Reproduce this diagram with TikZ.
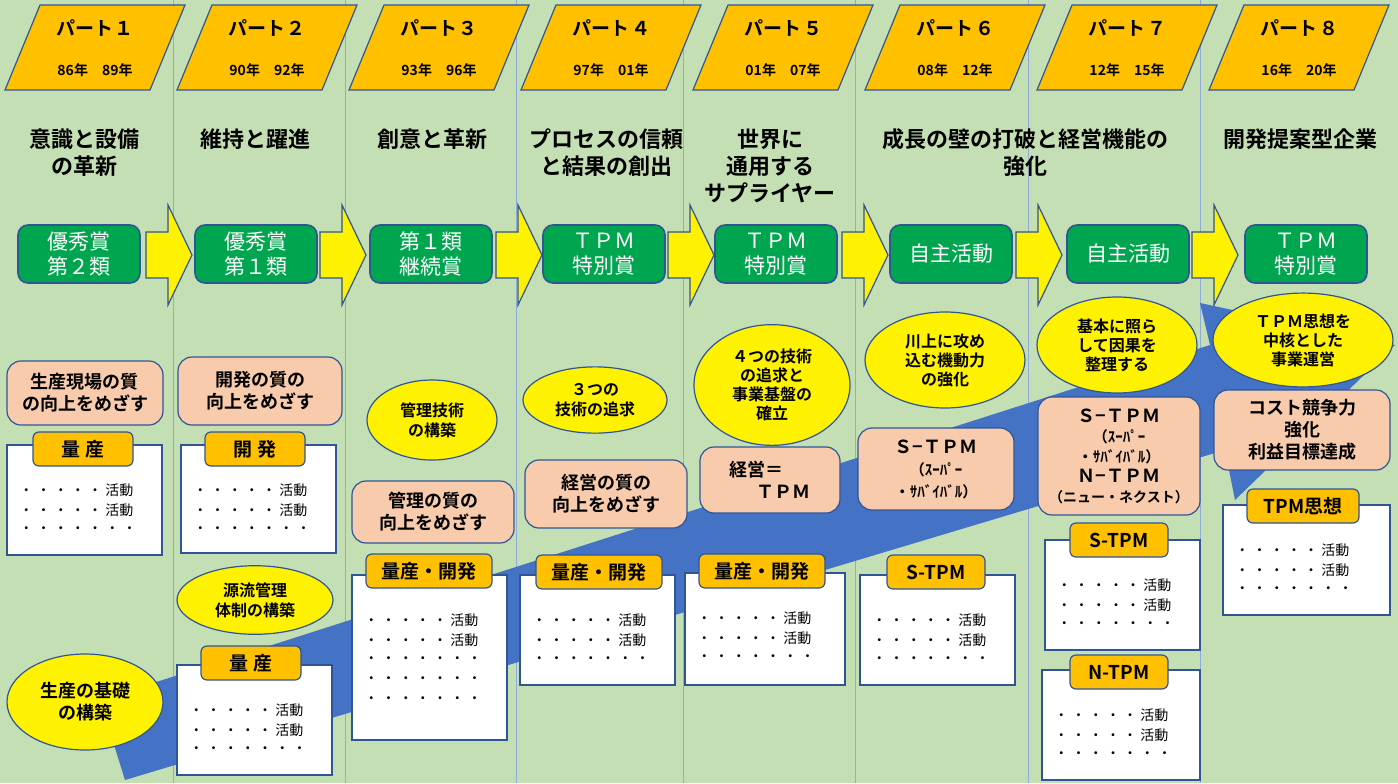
\documentclass[tikz,border=0pt]{standalone}
\usepackage{fontspec}
\setmainfont{Noto Sans CJK JP}
\newfontfamily\jb{Noto Sans CJK JP Bold}
\usetikzlibrary{shapes.geometric}
\definecolor{bg}{HTML}{C5DFB4}
\definecolor{org}{HTML}{FFC000}
\definecolor{grn}{HTML}{00A64F}
\definecolor{pch}{HTML}{F8CBAD}
\definecolor{blu}{HTML}{4472C4}
\definecolor{edg}{HTML}{2F5597}
\tikzset{
 part/.style={fill=org,draw=edg,line width=0.6pt},
 award/.style={fill=grn,draw=edg,line width=0.8pt,rounded corners=5pt},
 yarr/.style={fill=yellow,draw=edg,line width=0.6pt},
 peach/.style={fill=pch,draw=edg,line width=0.6pt,rounded corners=7pt},
 wbox/.style={fill=white,draw=edg,line width=0.6pt},
 tag/.style={fill=org,draw=edg,line width=0.6pt,rounded corners=3pt},
 ell/.style={fill=yellow,draw=edg,line width=0.6pt},
 ttl/.style={font=\jb\fontsize{11}{13.5}\selectfont,align=center,anchor=north},
 lbl/.style={font=\jb\fontsize{9}{11}\selectfont,align=center},
 sm/.style={font=\jb\fontsize{8}{9.5}\selectfont,align=center},
}
\def\D{・\hspace{1.6pt}}
\newcommand\rowA{\D\D\D\D\D 活動}
\newcommand\rowB{\D\D\D\D\D\D\D}
\begin{document}
\begin{tikzpicture}[x=0.5pt,y=-0.5pt]
\useasboundingbox (0,0) rectangle (1398,783);
\fill[bg] (0,0) rectangle (1398,783);
\foreach \x in {173,345,516,683,855,1028,1200}
  \draw[blu!60,line width=0.3pt] (\x,0) -- (\x,783);
% big blue arrow
\fill[blu] (100,700) -- (1210,345) -- (1200,303) -- (1395,345) -- (1235,500) -- (1225,450) -- (125,780) -- cycle;
% parts
\foreach \i/\z/\a/\b in {1/１/86/89,2/２/90/92,3/３/93/96,4/４/97/01,5/５/01/07,6/６/08/12,7/７/12/15,8/８/16/20}{
  \pgfmathsetmacro\c{95+172*(\i-1)}
  \draw[part] (\c-90,90) -- (\c-55,5) -- (\c+90,5) -- (\c+55,90) -- cycle;
  \node[font=\jb\fontsize{9.5}{10}\selectfont] (p\i) at (\c,28) {パート\hspace{1pt}\z};
  \node[font=\jb\fontsize{7}{8}\selectfont] (y\i) at (\c,70) {\a 年\quad\b 年};
}
% titles
\node[ttl] (t1) at (84,122) {意識と設備\\の革新};
\node[ttl] (t2) at (255,122) {維持と躍進};
\node[ttl] (t3) at (432,122) {創意と革新};
\node[ttl] (t4) at (606,122) {プロセスの信頼\\と結果の創出};
\node[ttl] (t5) at (770,122) {世界に\\通用する\\サプライヤー};
\node[ttl] (t6) at (1025,122) {成長の壁の打破と経営機能の\\強化};
\node[ttl] (t8) at (1300,122) {開発提案型企業};
% yellow arrows
\foreach \x in {146,320,496,668,842,1016,1192}{
  \draw[yarr] (\x,232) -- (\x+22,232) -- (\x+22,205) -- (\x+46,255) -- (\x+22,305) -- (\x+22,278) -- (\x,278) -- cycle;
}
% awards
\foreach \n/\x/\t in {a1/79/{優秀賞\\第２類},a2/256/{優秀賞\\第１類},a3/431/{第１類\\継続賞},a4/604/{ＴＰＭ\\特別賞},a5/776/{ＴＰＭ\\特別賞},a6/951/{自主活動},a7/1128/{自主活動},a8/1306/{ＴＰＭ\\特別賞}}{
  \node[award,minimum width=61pt,minimum height=29pt,text=white,font=\fontsize{10.5}{12.5}\selectfont,align=center] (\n) at (\x,254) {\t};
}
% ellipses
\node[ell,ellipse,minimum width=78pt,minimum height=48pt,lbl] (e1) at (85,702) {生産の基礎\\の構築};
\node[ell,ellipse,minimum width=78pt,minimum height=32pt,sm,font=\jb\fontsize{8}{10}\selectfont] (e2) at (255,600) {源流管理\\体制の構築};
\node[ell,ellipse,minimum width=65pt,minimum height=40pt,sm,font=\jb\fontsize{8}{10}\selectfont] (e3) at (432,420) {管理技術\\の構築};
\node[ell,ellipse,minimum width=72pt,minimum height=33pt,sm,font=\jb\fontsize{8}{10}\selectfont] (e4) at (595,400) {３つの\\技術の追求};
\node[ell,ellipse,minimum width=78pt,minimum height=52pt,sm] (e5) at (772,385) {４つの技術\\の追求と\\事業基盤の\\確立};
\node[ell,ellipse,minimum width=80pt,minimum height=48pt,sm] (e6) at (945,360) {川上に攻め\\込む機動力\\の強化};
\node[ell,ellipse,minimum width=80pt,minimum height=48pt,sm] (e7) at (1117,345) {基本に照ら\\して因果を\\整理する};
\node[ell,ellipse,minimum width=90pt,minimum height=38pt,sm] (e8) at (1303,340) {ＴＰＭ思想を\\中核とした\\事業運営};
% peach boxes
\node[peach,minimum width=78pt,minimum height=32pt,lbl] (q1) at (85,393) {生産現場の質\\の向上をめざす};
\node[peach,minimum width=82pt,minimum height=34pt,lbl] (q2) at (260,391) {開発の質の\\向上をめざす};
\node[peach,minimum width=81pt,minimum height=31pt,lbl] (q3) at (433,512) {管理の質の\\向上をめざす};
\node[peach,minimum width=81pt,minimum height=34pt,lbl] (q4) at (606,494) {経営の質の\\向上をめざす};
\node[peach,minimum width=70pt,minimum height=33pt,lbl,align=left] (q5) at (770,480) {経営＝\\\hspace{1.5em}ＴＰＭ};
\node[peach,minimum width=78pt,minimum height=41pt,lbl] (q6) at (936,469) {Ｓ−ＴＰＭ\\{\fontsize{7.5}{9}\selectfont（ｽｰﾊﾟｰ}\\{\fontsize{7.5}{9}\selectfont ・ｻﾊﾞｲﾊﾞﾙ）}};
\node[peach,minimum width=81pt,minimum height=59pt,lbl,font=\jb\fontsize{9}{10}\selectfont] (q7) at (1119,456) {Ｓ−ＴＰＭ\\{\fontsize{7.5}{9}\selectfont（ｽｰﾊﾟｰ}\\{\fontsize{7.5}{9}\selectfont ・ｻﾊﾞｲﾊﾞﾙ）}\\Ｎ−ＴＰＭ\\{\fontsize{7}{8}\selectfont（ニュー・ネクスト）}};
\node[peach,minimum width=88pt,minimum height=40pt,lbl] (q8) at (1302,430) {コスト競争力\\強化\\利益目標達成};
% white boxes with tags
\foreach \n/\xa/\ya/\xb/\yb/\tx/\ty/\tw/\t/\rows in {
 w1/7/445/162/555/83/449/50/量\ 産/3,
 w2/181/445/336/553/255/449/50/開\ 発/3,
 w3/177/665/332/775/251/663/50/量\ 産/3,
 w4/352/575/507/740/429/571/63/量産・開発/5,
 w5/520/575/675/685/599/572/63/量産・開発/3,
 w6/685/573/845/685/762/571/63/量産・開発/3,
 w7/860/575/1015/685/936/572/49/S-TPM/3,
 w8/1045/540/1200/650/1119/540/49/S-TPM/3,
 w9/1042/670/1200/780/1119/672/49/N-TPM/3,
 w10/1223/505/1390/615/1303/506/56/TPM思想/3}{
  \draw[wbox] (\xa,\ya) rectangle (\xb,\yb);
  \node[tag,minimum width=\tw pt,minimum height=17pt,font=\jb\fontsize{9.5}{11}\selectfont] (\n t) at (\tx,\ty) {\t};
  \foreach \r in {1,...,\rows}{
    \pgfmathsetmacro\yy{\ya+45+(\r-1)*20}
    \ifnum\r<3
      \node[anchor=west,font=\fontsize{7}{8}\selectfont,inner sep=0] at (\xa+12,\yy) {\rowA};
    \else
      \node[anchor=west,font=\fontsize{7}{8}\selectfont,inner sep=0] at (\xa+12,\yy) {\rowB};
    \fi
  }
}
\end{tikzpicture}
\end{document}
